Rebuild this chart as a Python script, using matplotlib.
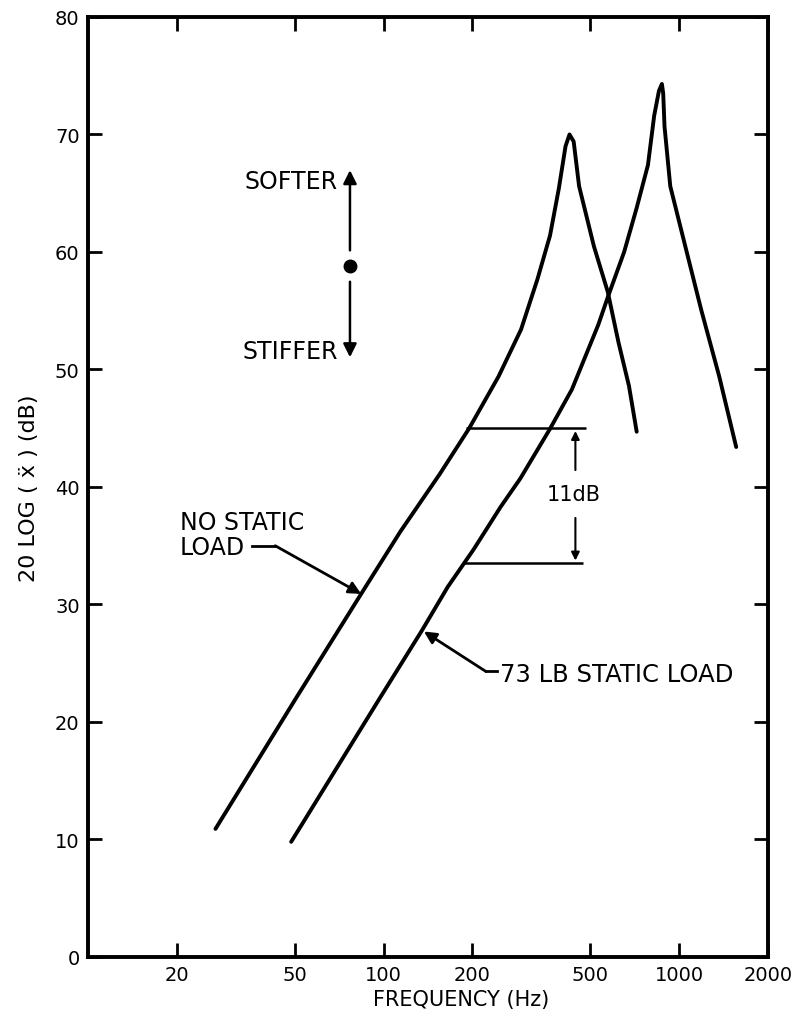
import matplotlib.pyplot as plt
from matplotlib.ticker import NullLocator

# curve (frequency in Hz, level in dB)
freq_no_load = [27, 50.5, 84, 114, 155, 195, 245, 292, 332, 366, 392, 413,
                426, 440, 459, 515, 574, 624, 677, 719]
db_no_load = [10.9, 22, 30.9, 36.2, 41.1, 45.0, 49.4, 53.4, 57.7, 61.4, 65.4, 69,
              70, 69.4, 65.6, 60.5, 56.6, 52.3, 48.6, 44.7]

freq_73lb = [48.7, 97, 135, 165, 202, 249, 290, 365, 434, 533, 575, 652, 718, 785,
             824, 855, 875, 884, 893, 934, 1040, 1188, 1368, 1561]
db_73lb = [9.8, 22, 27.8, 31.5, 34.7, 38.3, 40.7, 44.9, 48.3, 53.8, 56.2, 60, 63.7, 67.4,
           71.6, 73.7, 74.3, 73.5, 70.7, 65.6, 60.9, 55.1, 49.4, 43.4]

x_ticks = [20, 50, 100, 200, 500, 1000, 2000]
y_ticks = [0, 10, 20, 30, 40, 50, 60, 70, 80]

# 11 dB bracket
bracket_top = 45
bracket_bottom = 33.5

fig = plt.figure(figsize=(7.97, 10.2), dpi=100)
ax = fig.add_axes([0.1104, 0.0608, 0.8532, 0.9216])
ax.set_xscale('log')
ax.set_xlim(10, 2000)
ax.set_ylim(0, 80)

ax.plot(freq_no_load, db_no_load, color='k', lw=2.8, solid_capstyle='round',
        solid_joinstyle='round')
ax.plot(freq_73lb, db_73lb, color='k', lw=2.8, solid_capstyle='round',
        solid_joinstyle='round')

ax.set_xticks(x_ticks)
ax.set_xticklabels([str(t) for t in x_ticks])
ax.set_yticks(y_ticks)
ax.xaxis.set_minor_locator(NullLocator())
ax.tick_params(direction='in', top=True, right=True, length=10, width=2,
               labelsize=14, pad=6)
for s in ax.spines.values():
    s.set_linewidth(2.8)

ax.set_xlabel('FREQUENCY (Hz)', fontsize=15)
ax.xaxis.set_label_coords(0.549, -0.034)
ax.set_ylabel('20 LOG ( ẍ ) (dB)', fontsize=16)
ax.yaxis.set_label_coords(-0.072, 0.5)

# softer / stiffer marker
ax.plot(77, 58.8, 'o', color='k', ms=9)
ax.annotate('', xy=(77, 67.2), xytext=(77, 59.9),
            arrowprops=dict(arrowstyle='-|>', color='k', lw=1.8, mutation_scale=20))
ax.annotate('', xy=(77, 50.8), xytext=(77, 57.7),
            arrowprops=dict(arrowstyle='-|>', color='k', lw=1.8, mutation_scale=20))
ax.text(70, 66, 'SOFTER', ha='right', va='center', fontsize=17)
ax.text(70, 51.6, 'STIFFER', ha='right', va='center', fontsize=17)

# 11 dB bracket
ax.hlines(bracket_top, 190, 486, color='k', lw=1.8)
ax.hlines(bracket_bottom, 186, 473, color='k', lw=1.8)
ax.text(441, 39.4, '11dB', ha='center', va='center', fontsize=15)
ax.annotate('', xy=(446, bracket_top), xytext=(446, 41.2),
            arrowprops=dict(arrowstyle='-|>', color='k', lw=1.5, mutation_scale=12))
ax.annotate('', xy=(446, bracket_bottom), xytext=(446, 37.6),
            arrowprops=dict(arrowstyle='-|>', color='k', lw=1.5, mutation_scale=12))

# curve labels
ax.text(20.5, 37, 'NO STATIC', ha='left', va='center', fontsize=17)
ax.text(20.5, 34.9, 'LOAD', ha='left', va='center', fontsize=17)
ax.plot([36, 43], [35, 35], color='k', lw=2)
ax.annotate('', xy=(84, 30.9), xytext=(43, 35),
            arrowprops=dict(arrowstyle='-|>', color='k', lw=2, mutation_scale=18,
                            shrinkA=0, shrinkB=0))

ax.text(247, 24.1, '73 LB STATIC LOAD', ha='left', va='center', fontsize=17.5)
ax.plot([222, 243], [24.3, 24.3], color='k', lw=2)
ax.annotate('', xy=(137, 27.7), xytext=(222, 24.3),
            arrowprops=dict(arrowstyle='-|>', color='k', lw=2, mutation_scale=18,
                            shrinkA=0, shrinkB=0))

fig.savefig('out.png', dpi=100)
